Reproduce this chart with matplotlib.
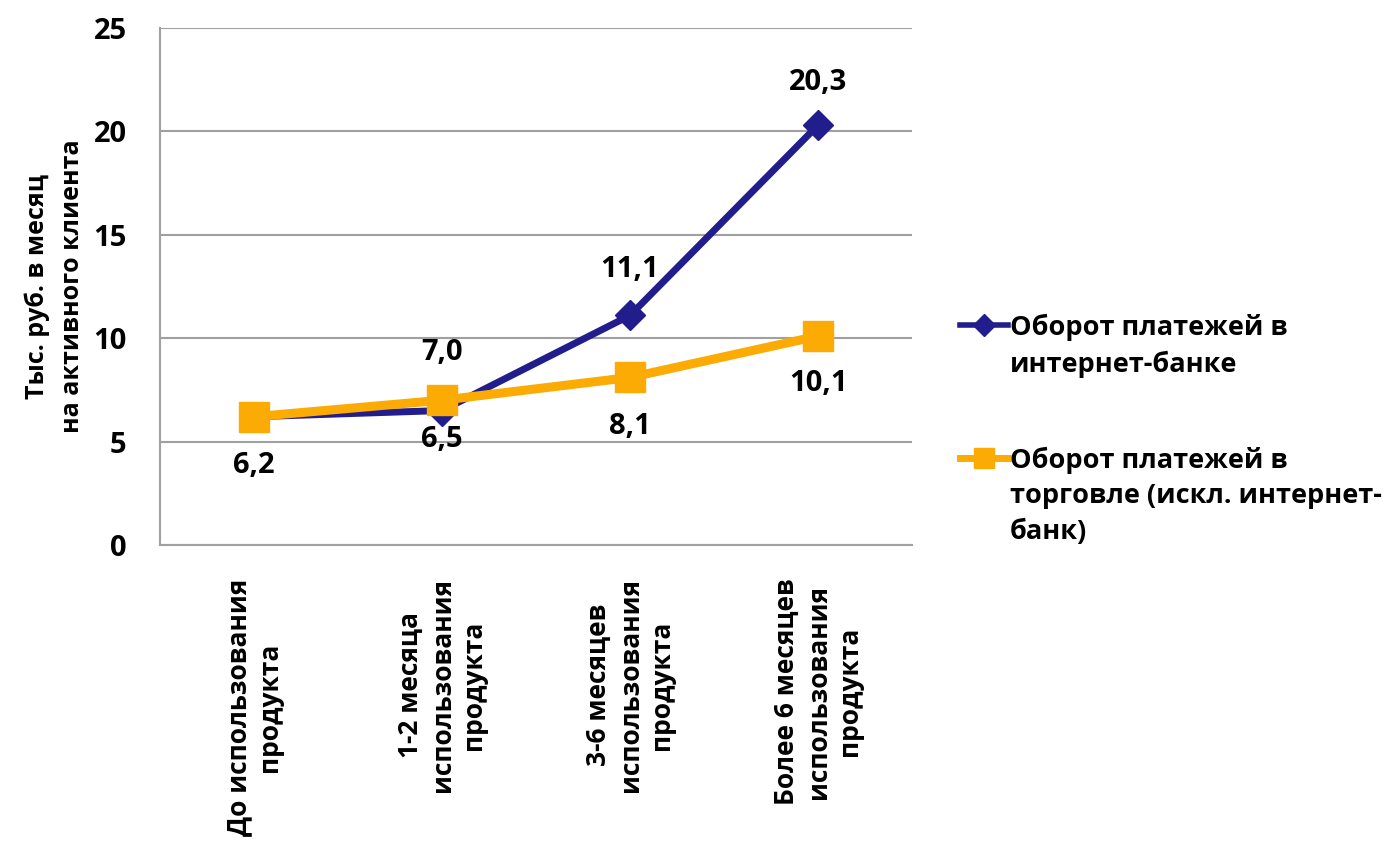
import matplotlib.pyplot as plt
from matplotlib.lines import Line2D

plt.rcParams['font.family'] = ['Open Sans', 'DejaVu Sans']
plt.rcParams['font.weight'] = 'bold'

categories = ['До использования\nпродукта',
              '1-2 месяца\nиспользования\nпродукта',
              '3-6 месяцев\nиспользования\nпродукта',
              'Более 6 месяцев\nиспользования\nпродукта']
bank = [6.2, 6.5, 11.1, 20.3]
trade = [6.2, 7.0, 8.1, 10.1]
bank_name = 'Оборот платежей в\nинтернет-банке'
trade_name = 'Оборот платежей в\nторговле (искл. интернет-\nбанк)'

# label offsets in points (None = no label)
bank_off = [None, -21, 33, 31]
trade_off = [-35, 34, -35, -34]

blue = '#221d8c'
orange = '#fbab04'

fig = plt.figure(figsize=(13.88, 8.47), dpi=100)
ax = fig.add_axes([0.1153, 0.3566, 0.5418, 0.6104])

x = [i + 0.5 for i in range(len(categories))]
ax.plot(x, bank, color=blue, lw=5, marker='D', ms=15, zorder=3)
ax.plot(x, trade, color=orange, lw=6.5, marker='s', ms=22, zorder=4)

for xi, v, off in zip(x, bank, bank_off):
    if off is None:
        continue
    ax.annotate(f'{v:.1f}'.replace('.', ','), (xi, v), xytext=(0, off),
                textcoords='offset points', ha='center', va='center',
                fontsize=21, fontweight='bold')
for xi, v, off in zip(x, trade, trade_off):
    ax.annotate(f'{v:.1f}'.replace('.', ','), (xi, v), xytext=(0, off),
                textcoords='offset points', ha='center', va='center',
                fontsize=21, fontweight='bold')

ax.set_xlim(0, 4)
ax.set_ylim(0, 25)
ax.set_yticks([0, 5, 10, 15, 20, 25])
ax.yaxis.grid(True, color='#a0a0a0', lw=1.5)
ax.set_axisbelow(True)
ax.set_xticks(x)
ax.set_xticklabels(categories, rotation=90, va='top', ha='center',
                   multialignment='center', fontsize=19, fontweight='bold')
ax.tick_params(axis='y', length=0, labelsize=21, pad=24)
ax.tick_params(axis='x', length=0, pad=24)
for s in ['top', 'right']:
    ax.spines[s].set_visible(False)
for s in ['left', 'bottom']:
    ax.spines[s].set_color('#a0a0a0')
    ax.spines[s].set_linewidth(1.5)
ax.set_ylabel('Тыс. руб. в месяц\nна активного клиента', fontsize=18,
              fontweight='bold', labelpad=6, linespacing=1.5)

# legend
fig.add_artist(Line2D([0.6916, 0.726], [0.6163, 0.6163], color=blue, lw=4))
fig.add_artist(Line2D([0.709], [0.6163], color=blue, marker='D', ms=11))
fig.text(0.7277, 0.6293, bank_name, fontsize=19.5, fontweight='bold',
         va='top', ha='left', linespacing=1.45)
fig.add_artist(Line2D([0.6916, 0.726], [0.4593, 0.4593], color=orange, lw=5))
fig.add_artist(Line2D([0.709], [0.4593], color=orange, marker='s', ms=15))
fig.text(0.7277, 0.4723, trade_name, fontsize=19.5, fontweight='bold',
         va='top', ha='left', linespacing=1.45)

fig.savefig('out.png', dpi=100)
